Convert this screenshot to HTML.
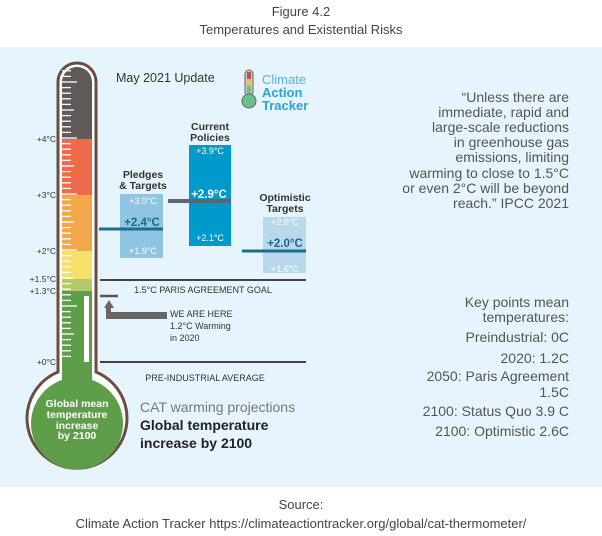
<!DOCTYPE html>
<html><head><meta charset="utf-8"><style>
html,body{margin:0;padding:0;background:#fff}
svg{display:block}
text{font-family:"Liberation Sans",sans-serif}
</style></head><body>
<svg id="s" width="602" height="536" viewBox="0 0 602 536" xmlns="http://www.w3.org/2000/svg">
<text x="301" y="16" text-anchor="middle" font-size="13" fill="#444">Figure 4.2</text>
<text x="301" y="34" text-anchor="middle" font-size="13" fill="#444">Temperatures and Existential Risks</text>
<rect x="0" y="47" width="602" height="440" fill="#e6f5fd"/>

<defs>
<clipPath id="tube"><path d="M62,82 A15,15 0 0 1 92,82 L92,380 A46,46 0 1 1 62,380 Z"/></clipPath>
</defs>
<path d="M58,82 A19,19 0 0 1 96,82 L96,372 A50,50 0 1 1 58,372 Z" fill="#fff" stroke="#6b4c40" stroke-width="3"/>
<g clip-path="url(#tube)">
<rect x="55" y="60" width="45" height="79" fill="#5f5a58"/>
<rect x="55" y="139" width="45" height="56" fill="#ef6a4a"/>
<rect x="55" y="195" width="45" height="56" fill="#f2a84a"/>
<rect x="55" y="251" width="45" height="28" fill="#f4e06a"/>
<rect x="55" y="279" width="45" height="12" fill="#b5c96a"/>
<rect x="20" y="291" width="120" height="200" fill="#5e9e4a"/>
</g>
<g id="ticks" stroke="#fff" stroke-width="1.3"></g>
<rect x="84" y="296" width="5" height="66" fill="#fff"/>
<g font-size="8.5" fill="#333" text-anchor="end">
<text x="56" y="142">+4°C</text><text x="56" y="198">+3°C</text><text x="56" y="254">+2°C</text>
<text x="56" y="282">+1.5°C</text><text x="56" y="294">+1.3°C</text><text x="56" y="365">+0°C</text>
</g>
<g font-size="10.5" font-weight="bold" fill="#fff" text-anchor="middle">
<text x="77" y="407">Global mean</text><text x="77" y="418">temperature</text>
<text x="77" y="429">increase</text><text x="77" y="439">by 2100</text>
</g>

<text x="116" y="82" font-size="12.5" fill="#333">May 2021 Update</text>
<rect x="245" y="70" width="8" height="26" rx="4" fill="#c9c9c9" stroke="#666" stroke-width="1"/>
<rect x="247" y="72" width="4" height="7" fill="#c0504d"/><rect x="247" y="79" width="4" height="7" fill="#e7c24e"/><rect x="247" y="86" width="4" height="8" fill="#6bbf8a"/>
<circle cx="249" cy="101" r="7" fill="#6bbf8a" stroke="#666" stroke-width="1"/>
<text x="262" y="84" font-size="13" fill="#4bb8e3">Climate</text>
<text x="262" y="97" font-size="13" font-weight="bold" fill="#2aa3d6">Action</text>
<text x="262" y="110" font-size="13" font-weight="bold" fill="#2aa3d6">Tracker</text>

<g font-size="10.5" font-weight="bold" fill="#333" text-anchor="middle">
<text x="143" y="178">Pledges</text><text x="143" y="189">&amp; Targets</text>
<text x="210" y="130">Current</text><text x="210" y="141">Policies</text>
<text x="285" y="201">Optimistic</text><text x="285" y="212">Targets</text>
</g>
<rect x="120" y="194" width="43" height="64" fill="#8fc4e3"/>
<rect x="189" y="145" width="42" height="101" fill="#0099cc"/>
<rect x="263" y="217" width="43" height="56" fill="#b9d8ec"/>
<line x1="99" y1="229" x2="163" y2="229" stroke="#1a6e8e" stroke-width="3"/>
<line x1="168" y1="201" x2="231" y2="201" stroke="#5a6670" stroke-width="4"/>
<line x1="242" y1="251" x2="306" y2="251" stroke="#1a6e8e" stroke-width="3"/>
<g font-size="9" fill="#fff" text-anchor="middle">
<text x="143" y="204">+3.0°C</text><text x="143" y="254">+1.9°C</text>
<text x="210" y="154">+3.9°C</text><text x="210" y="241">+2.1°C</text>
<text x="285" y="225">+2.6°C</text><text x="285" y="272">+1.6°C</text>
</g>
<g font-size="11.5" font-weight="bold" text-anchor="middle">
<text x="142" y="226" fill="#1a6a8a">+2.4°C</text>
<text x="209" y="198" fill="#fff">+2.9°C</text>
<text x="285" y="247" fill="#1a6a8a">+2.0°C</text>
</g>

<line x1="100" y1="280" x2="306" y2="280" stroke="#444" stroke-width="2"/>
<text x="203" y="293" font-size="9" fill="#333" text-anchor="middle">1.5°C PARIS AGREEMENT GOAL</text>
<line x1="100" y1="296" x2="118" y2="296" stroke="#555" stroke-width="2.5"/>
<path d="M104,308 L109,300 L114,308 L111,308 L111,312 L167,312 L167,319 L106,319 L106,308 Z" fill="#666"/>
<g font-size="9" fill="#333">
<text x="170" y="317">WE ARE HERE</text><text x="170" y="329">1.2°C Warming</text><text x="170" y="341">in 2020</text>
</g>
<line x1="100" y1="362" x2="306" y2="362" stroke="#444" stroke-width="2"/>
<text x="205" y="381" font-size="9" fill="#333" text-anchor="middle">PRE-INDUSTRIAL AVERAGE</text>
<text x="140" y="412" font-size="14" fill="#777">CAT warming projections</text>
<text x="140" y="430" font-size="14" font-weight="bold" fill="#222">Global temperature</text>
<text x="140" y="448" font-size="14" font-weight="bold" fill="#222">increase by 2100</text>

<g font-size="14" fill="#555" text-anchor="end">
<text x="569" y="102">“Unless there are</text>
<text x="569" y="117">immediate, rapid and</text>
<text x="569" y="132">large-scale reductions</text>
<text x="569" y="147">in greenhouse gas</text>
<text x="569" y="162">emissions, limiting</text>
<text x="569" y="178">warming to close to 1.5°C</text>
<text x="569" y="193">or even 2°C will be beyond</text>
<text x="569" y="208">reach.” IPCC 2021</text>
</g>
<g font-size="14" fill="#555" text-anchor="end">
<text x="569" y="307">Key points mean</text>
<text x="569" y="322">temperatures:</text>
<text x="569" y="342">Preindustrial: 0C</text>
<text x="569" y="363">2020: 1.2C</text>
<text x="569" y="381">2050: Paris Agreement</text>
<text x="569" y="397">1.5C</text>
<text x="569" y="416">2100: Status Quo 3.9 C</text>
<text x="569" y="436">2100: Optimistic 2.6C</text>
</g>
<text x="301" y="509" font-size="13" fill="#444" text-anchor="middle">Source:</text>
<text x="301" y="528" font-size="13" fill="#444" text-anchor="middle">Climate Action Tracker  https://climateactiontracker.org/global/cat-thermometer/</text>
</svg>
<script>
var g=document.getElementById('ticks'),s='';
for(var i=1;i<=52;i++){var y=362-i*5.6;if(y<70)break;
var len=(i%10==0)?15:(i%5==0)?12:9;s+='<line x1="62" y1="'+y.toFixed(1)+'" x2="'+(62+len)+'" y2="'+y.toFixed(1)+'"/>';}
g.innerHTML=s;
</script>
</body></html>
